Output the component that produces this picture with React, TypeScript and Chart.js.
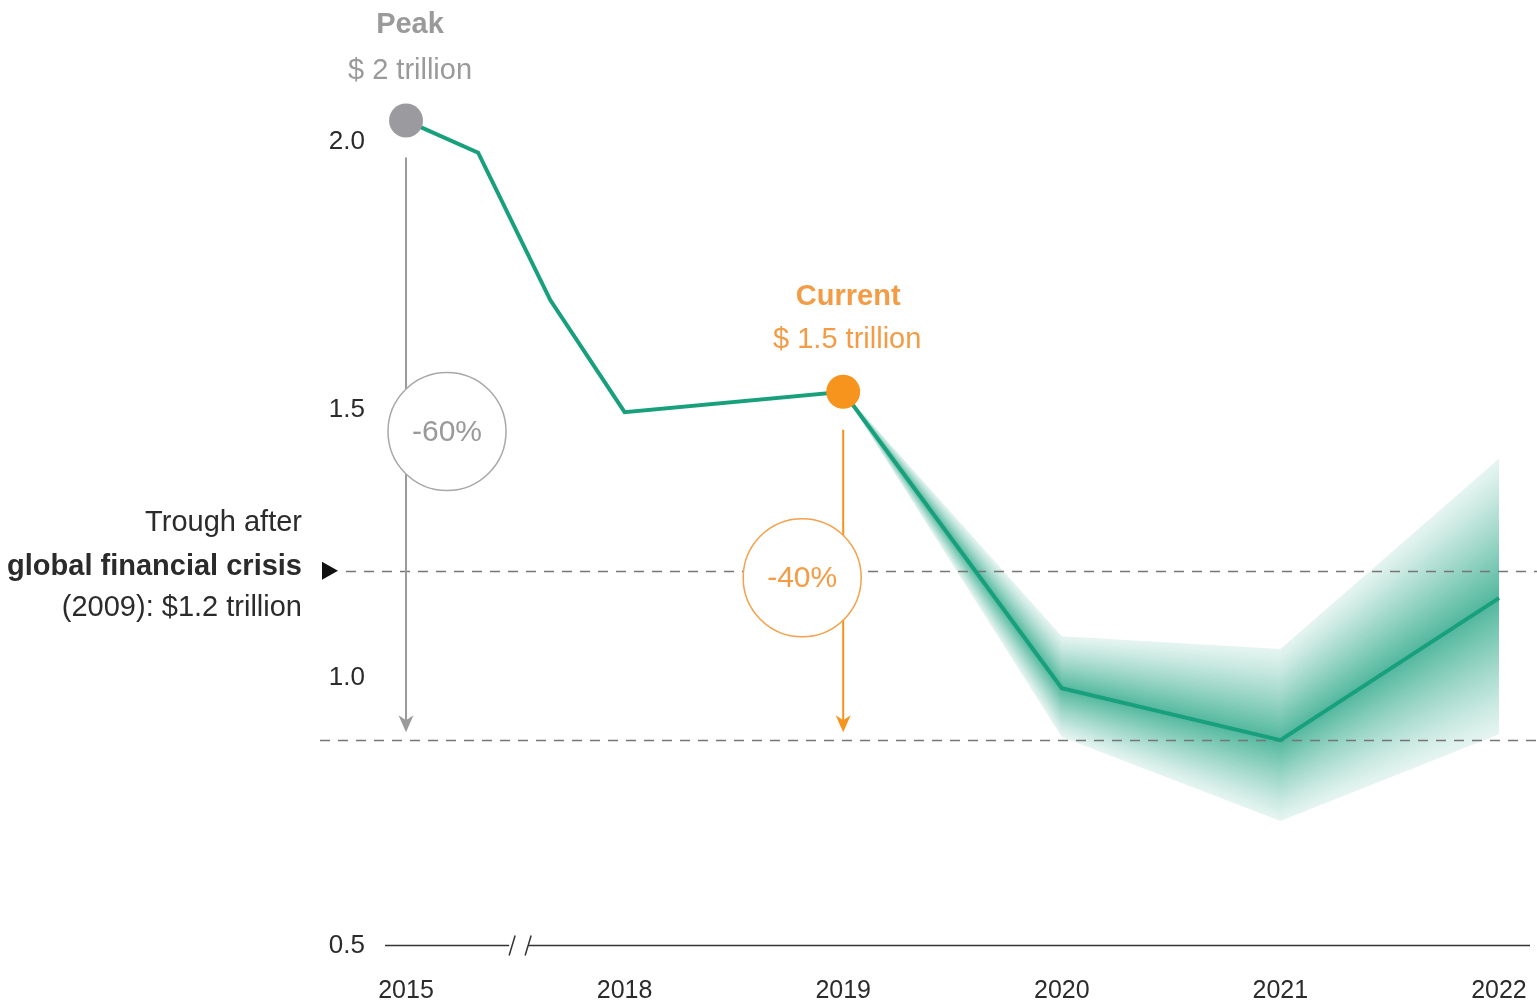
import { useEffect, useRef } from "react";
import { Chart, registerables } from "chart.js";

Chart.register(...registerables);

// ---- data ----
const yearTickPositions = [0, 1, 2, 3, 4, 5];
const yearLabels = ["2015", "2018", "2019", "2020", "2021", "2022"];
const yTickValues = [0.5, 1.0, 1.5, 2.0];

// x positions on the broken axis (2015 .. 2018 compressed into one unit)
const lineX = [0, 0.33, 0.66, 1, 2, 3, 4, 5];
const lineValues = [2.04, 1.98, 1.705, 1.496, 1.534, 0.981, 0.884, 1.149];

const forecastX = [2, 3, 4, 5];
const forecastCentral = [1.534, 0.981, 0.884, 1.149];
const forecastUpper = [1.534, 1.078, 1.054, 1.409];
const forecastLower = [1.534, 0.89, 0.733, 0.895];

const troughGfcValue = 1.2;
const projectedTroughValue = 0.884;
const peakIndex = 0;
const currentIndex = 4;
const axisBreakAt = 0.49;

// ---- styling ----
const FONT = '"Liberation Sans", Arial, Helvetica, sans-serif';
const GREEN_RGB = [24, 160, 125];
const GREEN = `rgb(${GREEN_RGB.join(",")})`;
const GRAY_DOT = "#9b9b9f";
const GRAY_TEXT = "#9a9a9a";
const ORANGE = "#f7941d";
const ORANGE_TEXT = "#f39c45";
const DARK = "#2b2b2b";

function bandOpacity(t: number) {
  return 0.11 + 0.64 * Math.pow(1 - t, 1.15);
}

function mixWithWhite(o: number) {
  const c = GREEN_RGB.map((v) => Math.round(255 - o * (255 - v)));
  return `rgb(${c[0]},${c[1]},${c[2]})`;
}

function drawArrow(ctx: CanvasRenderingContext2D, x: number, y0: number, y1: number, color: string) {
  ctx.save();
  ctx.strokeStyle = color;
  ctx.fillStyle = color;
  ctx.lineWidth = 2;
  ctx.beginPath();
  ctx.moveTo(x, y0);
  ctx.lineTo(x, y1 - 6);
  ctx.stroke();
  ctx.beginPath();
  ctx.moveTo(x, y1);
  ctx.lineTo(x - 7.5, y1 - 17);
  ctx.lineTo(x, y1 - 12);
  ctx.lineTo(x + 7.5, y1 - 17);
  ctx.closePath();
  ctx.fill();
  ctx.restore();
}

function drawCircleLabel(ctx: CanvasRenderingContext2D, cx: number, cy: number, r: number, color: string, textColor: string, text: string) {
  ctx.save();
  ctx.beginPath();
  ctx.arc(cx, cy, r, 0, Math.PI * 2);
  ctx.fillStyle = "#fff";
  ctx.fill();
  ctx.lineWidth = 1.5;
  ctx.strokeStyle = color;
  ctx.stroke();
  ctx.fillStyle = textColor;
  ctx.font = `30px ${FONT}`;
  ctx.textAlign = "center";
  ctx.textBaseline = "middle";
  ctx.fillText(text, cx, cy + 1);
  ctx.restore();
}

const annotationPlugin = {
  id: "annotations",
  beforeDatasetsDraw(chart: any) {
    const { ctx } = chart;
    const xs = chart.scales.x;
    const ys = chart.scales.y;
    ctx.save();
    // uncertainty band, fading away from the central path (opaque nested layers)
    const px = forecastX.map((v) => xs.getPixelForValue(v));
    const pc = forecastCentral.map((v) => ys.getPixelForValue(v));
    const N = 48;
    for (const edge of [forecastUpper, forecastLower]) {
      const pe = edge.map((v) => ys.getPixelForValue(v));
      for (let k = N; k >= 1; k--) {
        const t = k / N;
        ctx.beginPath();
        for (let i = 0; i < px.length; i++) {
          const yy = pc[i] + (pe[i] - pc[i]) * t;
          if (i === 0) ctx.moveTo(px[i], yy);
          else ctx.lineTo(px[i], yy);
        }
        for (let i = px.length - 1; i >= 0; i--) ctx.lineTo(px[i], pc[i]);
        ctx.closePath();
        ctx.fillStyle = mixWithWhite(bandOpacity((k - 0.5) / N));
        ctx.fill();
      }
    }
    // dashed reference lines
    ctx.setLineDash([10, 8]);
    ctx.strokeStyle = "#767676";
    ctx.lineWidth = 1.5;
    const yG = Math.round(ys.getPixelForValue(troughGfcValue)) + 0.5;
    ctx.beginPath();
    ctx.moveTo(346, yG);
    ctx.lineTo(chart.width, yG);
    ctx.stroke();
    const yT = Math.round(ys.getPixelForValue(projectedTroughValue)) + 0.5;
    ctx.beginPath();
    ctx.moveTo(320, yT);
    ctx.lineTo(chart.width, yT);
    ctx.stroke();
    ctx.setLineDash([]);

    // bottom axis with break
    const yA = Math.round(ys.getPixelForValue(0.5)) - 0.5;
    const xb = xs.getPixelForValue(axisBreakAt);
    ctx.strokeStyle = "#333";
    ctx.lineWidth = 1.5;
    ctx.beginPath();
    ctx.moveTo(xs.left - 2, yA);
    ctx.lineTo(xb - 4, yA);
    ctx.moveTo(xb + 15, yA);
    ctx.lineTo(xs.right, yA);
    ctx.stroke();
    ctx.beginPath();
    ctx.moveTo(xb - 4, yA + 10);
    ctx.lineTo(xb + 2, yA - 10);
    ctx.moveTo(xb + 12, yA + 10);
    ctx.lineTo(xb + 18, yA - 10);
    ctx.stroke();
    ctx.restore();
  },
  afterDatasetsDraw(chart: any) {
    const { ctx } = chart;
    const xs = chart.scales.x;
    const ys = chart.scales.y;
    const xPeak = xs.getPixelForValue(lineX[peakIndex]);
    const yPeak = ys.getPixelForValue(lineValues[peakIndex]);
    const xCur = xs.getPixelForValue(lineX[currentIndex]);
    const yCur = ys.getPixelForValue(lineValues[currentIndex]);
    const yTrough = ys.getPixelForValue(projectedTroughValue);
    const yG = ys.getPixelForValue(troughGfcValue);

    drawArrow(ctx, xPeak, yPeak + 37, yTrough - 8, "#9a9a9a");
    drawArrow(ctx, xCur, yCur + 38, yTrough - 8, ORANGE);
    drawCircleLabel(ctx, xPeak + 41, yPeak + 311, 59, "#a8a8a8", "#9a9a9a", "-60%");
    drawCircleLabel(ctx, xCur - 41, yG + 7, 59, "#f5a04a", "#f39c45", "-40%");

    ctx.save();
    ctx.textAlign = "center";
    ctx.textBaseline = "middle";
    ctx.fillStyle = GRAY_TEXT;
    ctx.font = `bold 29px ${FONT}`;
    ctx.fillText("Peak", xPeak + 4, yPeak - 96);
    ctx.font = `29px ${FONT}`;
    ctx.fillText("$ 2 trillion", xPeak + 4, yPeak - 50);
    ctx.fillStyle = ORANGE_TEXT;
    ctx.font = `bold 29px ${FONT}`;
    ctx.fillText("Current", xCur + 5, yCur - 95);
    ctx.font = `29px ${FONT}`;
    ctx.fillText("$ 1.5 trillion", xCur + 4, yCur - 52);

    // trough note on the left
    ctx.textAlign = "right";
    ctx.fillStyle = DARK;
    ctx.font = `29px ${FONT}`;
    ctx.fillText("Trough after", 302, yG - 48);
    ctx.font = `bold 29px ${FONT}`;
    ctx.fillText("global financial crisis", 302, yG - 4);
    ctx.font = `29px ${FONT}`;
    ctx.fillText("(2009): $1.2 trillion", 302, yG + 37);
    ctx.beginPath();
    ctx.moveTo(322, yG - 9);
    ctx.lineTo(338, yG);
    ctx.lineTo(322, yG + 9);
    ctx.closePath();
    ctx.fillStyle = "#111";
    ctx.fill();
    ctx.restore();
  },
};

function zeroPadding(scale: any) {
  scale.paddingTop = 0;
  scale.paddingBottom = 0;
  scale.paddingLeft = 0;
  scale.paddingRight = 0;
}

export default function App() {
  const canvasRef = useRef<HTMLCanvasElement | null>(null);

  useEffect(() => {
    if (!canvasRef.current) return;
    const pointRadius = lineX.map((_, i) => (i === peakIndex || i === currentIndex ? 17 : 0));
    const pointColors = lineX.map((_, i) => (i === currentIndex ? ORANGE : GRAY_DOT));
    const chart = new Chart(canvasRef.current, {
      type: "line",
      data: {
        datasets: [
          {
            data: lineX.map((x, i) => ({ x, y: lineValues[i] })),
            borderColor: GREEN,
            borderWidth: 4,
            pointRadius,
            pointHoverRadius: pointRadius,
            pointBackgroundColor: pointColors,
            pointBorderWidth: 0,
            tension: 0,
            fill: false,
            clip: false,
          },
        ],
      },
      options: {
        responsive: false,
        animation: false,
        devicePixelRatio: 1,
        events: [],
        layout: { autoPadding: false, padding: { left: 0, right: 7, top: 8, bottom: 0 } },
        plugins: { legend: { display: false }, tooltip: { enabled: false } },
        scales: {
          x: {
            type: "linear",
            min: -0.087,
            max: 5.142,
            grid: { display: false, drawTicks: false },
            border: { display: false },
            afterBuildTicks: (scale: any) => {
              scale.ticks = yearTickPositions.map((v) => ({ value: v }));
            },
            afterFit: (scale: any) => {
              scale.height = 58;
              zeroPadding(scale);
            },
            ticks: {
              autoSkip: false,
              maxRotation: 0,
              padding: 30,
              color: DARK,
              font: { family: FONT, size: 25 },
              callback: (v: any) => {
                const idx = yearTickPositions.indexOf(Number(v));
                return idx >= 0 ? yearLabels[idx] : "";
              },
            },
          },
          y: {
            type: "linear",
            min: 0.5,
            max: 2.25,
            grid: { display: false, drawTicks: false },
            border: { display: false },
            afterBuildTicks: (scale: any) => {
              scale.ticks = yTickValues.map((v) => ({ value: v }));
            },
            afterFit: (scale: any) => {
              scale.width = 387;
              zeroPadding(scale);
            },
            ticks: {
              padding: 22,
              color: DARK,
              font: { family: FONT, size: 26 },
              callback: (v: any) => Number(v).toFixed(1),
            },
          },
        },
      },
      plugins: [annotationPlugin],
    });
    return () => chart.destroy();
  }, []);

  return (
    <div style={{ position: "fixed", left: 0, top: 0, width: 1537, height: 1004, background: "#fff" }}>
      <canvas ref={canvasRef} width={1537} height={1004} style={{ width: 1537, height: 1004, display: "block" }} />
    </div>
  );
}
